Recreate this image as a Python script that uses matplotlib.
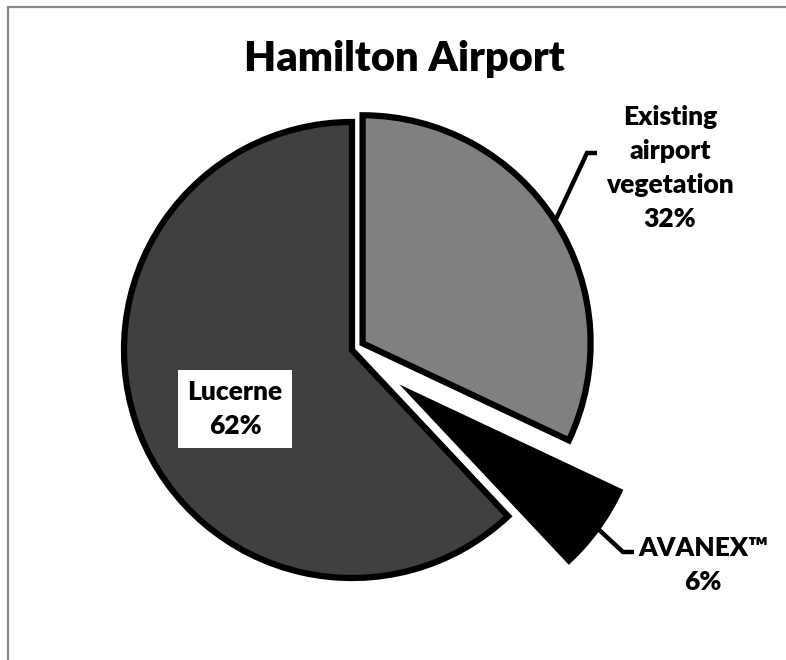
import numpy as np
import matplotlib
matplotlib.use("Agg")
import matplotlib.pyplot as plt
from matplotlib.patches import Rectangle

# ---- data ----
categories = ["Existing\nairport\nvegetation", "AVANEX\u2122", "Lucerne"]
shares = [32, 6, 62]
colors = ["#808080", "#000000", "#404040"]
explode = [0.055, 0.33, 0.0]
title = "Hamilton Airport"

W, H = 786, 660
R_PX = 228.0
CX, CY = 352.0, 350.0  # pie centre in pixels (from top-left)

plt.rcParams['font.family'] = ['Lato', 'DejaVu Sans']
fig = plt.figure(figsize=(W / 100, H / 100), dpi=100)
ax = fig.add_axes([0, 0, 1, 1])

wedges, _ = ax.pie(shares, colors=colors, explode=explode, startangle=90,
                   counterclock=False, radius=1.0,
                   wedgeprops=dict(edgecolor='black', linewidth=4.5,
                                   joinstyle='miter'))
ax.set_xlim(-CX / R_PX, (W - CX) / R_PX)
ax.set_ylim(-(H - CY) / R_PX, CY / R_PX)
ax.set_aspect('equal')
ax.axis('off')

def px(x, y):
    return ((x - CX) / R_PX, (CY - y) / R_PX)

def mid_point(w, r=1.0):
    a = np.deg2rad(0.5 * (w.theta1 + w.theta2))
    cx, cy = w.center
    return cx + r * w.r * np.cos(a), cy + r * w.r * np.sin(a)

# leader: existing vegetation
x0, y0 = mid_point(wedges[0])
k1 = px(587, 153); k2 = px(597, 153)
ax.plot([x0, k1[0], k2[0]], [y0, k1[1], k2[1]], color='black', lw=3.2,
        solid_joinstyle='miter', solid_capstyle='butt')
# leader: AVANEX
x0, y0 = mid_point(wedges[1])
k1 = px(623, 552); k2 = px(634, 552)
ax.plot([x0, k1[0], k2[0]], [y0, k1[1], k2[1]], color='black', lw=3.2,
        solid_joinstyle='miter', solid_capstyle='butt')

lab_fs = 19
ls = 1.5
ax.text(*px(670, 168), f"{categories[0]}\n{shares[0]}%", ha='center',
        va='center', fontsize=lab_fs, fontweight='heavy', linespacing=ls)
ax.text(*px(703, 565), f"{categories[1]}\n{shares[1]}%", ha='center',
        va='center', fontsize=lab_fs, fontweight='heavy', linespacing=ls)
ax.text(*px(235, 409), f"{categories[2]}\n{shares[2]}%", ha='center',
        va='center', fontsize=lab_fs, fontweight='heavy', linespacing=ls,
        bbox=dict(facecolor='white', edgecolor='none', pad=7))

fig.text(404 / W, 1 - 59 / H, title, ha='center', va='center',
         fontsize=30, fontweight='heavy')

# chart-area frame (visible on top and left)
fig.add_artist(Rectangle((8 / W, -0.1), 1.2, 1.1 - 7 / H,
                         transform=fig.transFigure, fill=False,
                         edgecolor='#888888', linewidth=1.6))

fig.savefig("out.png", dpi=100)
